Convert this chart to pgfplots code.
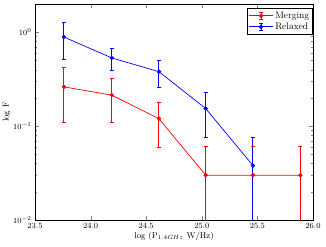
\documentclass[border=0pt]{standalone}
\usepackage{pgfplots}
\pgfplotsset{compat=1.18}
\begin{document}
\begin{tikzpicture}
\begin{axis}[
  scale only axis,
  width=278bp, height=216bp,
  at={(0,0)}, anchor=south west,
  xmin=23.5, xmax=26.0,
  ymode=log, ymin=0.01, ymax=2,
  xtick={23.5,24.0,24.5,25.0,25.5,26.0},
  xticklabels={23.5,24.0,24.5,25.0,25.5,26.0},
  ytick={0.01,0.1,1},
  tick align=inside,
  tick pos=both,
  major tick length=4bp,
  minor tick length=2bp,
  tick label style={font=\fontsize{8}{10}\selectfont},
  label style={font=\fontsize{8.5}{10}\selectfont},
  xlabel={log (P$_{1.4GHz}$ W/Hz)},
  ylabel={log F},
  xlabel style={yshift=4bp},
  ylabel style={yshift=-4bp},
  axis line style={line width=0.8pt},
  legend style={at={(1,1)}, anchor=north east, yshift=-4bp,
    font=\fontsize{9.5}{11}\selectfont, draw=black, line width=0.6pt,
    inner sep=1.5pt, row sep=-1pt},
  legend cell align=left,
  legend image code/.code={
    \draw[#1, mark=none, line width=0.9pt] (0.42cm,-0.13cm) -- (0.42cm,0.13cm);
    \draw[#1, mark=none, line width=0.9pt] (0.34cm,-0.13cm) -- (0.50cm,-0.13cm);
    \draw[#1, mark=none, line width=0.9pt] (0.34cm,0.13cm) -- (0.50cm,0.13cm);
    \draw[mark repeat=2,mark phase=2,#1] plot coordinates {(0cm,0cm) (0.42cm,0cm) (0.84cm,0cm)};
  },
  every axis plot/.append style={line width=0.7pt},
  ebr/.style={draw=red, line width=1pt, mark=none, forget plot},
  ebb/.style={draw=blue, line width=1pt, mark=none, forget plot},
]
% error bars, one plot each
\addplot[ebr] coordinates {(23.76,0.108) (23.76,0.42)};
\addplot[ebr] coordinates {(24.19,0.108) (24.19,0.32)};
\addplot[ebr] coordinates {(24.615,0.059) (24.615,0.177)};
\addplot[ebr] coordinates {(25.035,0.0002) (25.035,0.06)};
\addplot[ebr] coordinates {(25.46,0.0002) (25.46,0.06)};
\addplot[ebr] coordinates {(25.886,0.0002) (25.886,0.06)};
\addplot[ebb] coordinates {(23.76,0.51) (23.76,1.27)};
\addplot[ebb] coordinates {(24.19,0.39) (24.19,0.67)};
\addplot[ebb] coordinates {(24.615,0.26) (24.615,0.50)};
\addplot[ebb] coordinates {(25.035,0.075) (25.035,0.23)};
\addplot[ebb] coordinates {(25.46,0.0002) (25.46,0.075)};
% caps
\addplot[red, only marks, mark=-, mark size=2pt, line width=1pt, forget plot] coordinates {
  (23.76,0.108) (23.76,0.42) (24.19,0.108) (24.19,0.32)
  (24.615,0.059) (24.615,0.177) (25.035,0.06) (25.46,0.06) (25.886,0.06)
};
\addplot[blue, only marks, mark=-, mark size=2pt, line width=1pt, forget plot] coordinates {
  (23.76,0.51) (23.76,1.27) (24.19,0.39) (24.19,0.67)
  (24.615,0.26) (24.615,0.50) (25.035,0.075) (25.035,0.23) (25.46,0.075)
};
% data
\addplot[color=red, mark=*, mark size=1.8pt] coordinates {
  (23.76,0.262) (24.19,0.214) (24.615,0.120)
  (25.035,0.030) (25.46,0.030) (25.886,0.030)
};
\addplot[color=blue, mark=*, mark size=1.8pt] coordinates {
  (23.76,0.89) (24.19,0.533) (24.615,0.38)
  (25.035,0.154) (25.46,0.038)
};
\legend{Merging,Relaxed}
\end{axis}
\pgfresetboundingbox
\useasboundingbox (-35bp,-27bp) rectangle (291bp,220bp);
\end{tikzpicture}
\end{document}
